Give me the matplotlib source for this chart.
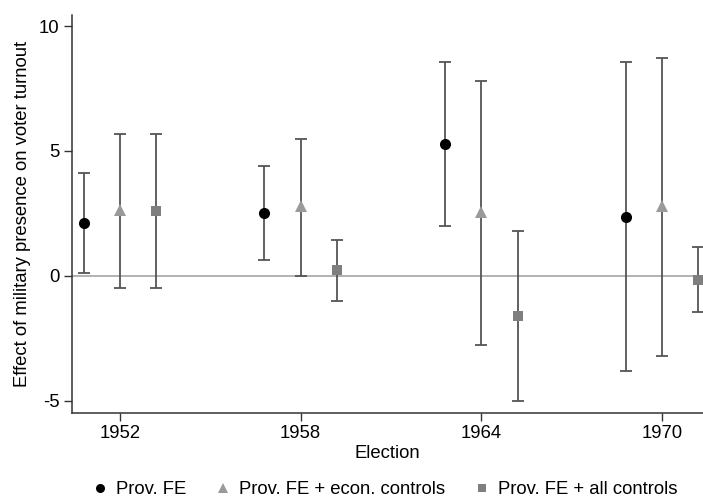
import numpy as np
import matplotlib
matplotlib.use('Agg')
import matplotlib.pyplot as plt
from matplotlib.lines import Line2D

plt.rcParams['font.family'] = ['Liberation Sans', 'DejaVu Sans']
plt.rcParams['axes.unicode_minus'] = False

elections = ['1952', '1958', '1964', '1970']

# Prov. FE
fe_est = [2.13, 2.50, 5.27, 2.37]
fe_lo = [0.11, 0.61, 2.01, -3.80]
fe_hi = [4.12, 4.40, 8.57, 8.55]

# Prov. FE + econ. controls
econ_est = [2.62, 2.78, 2.54, 2.81]
econ_lo = [-0.49, -0.03, -2.78, -3.20]
econ_hi = [5.67, 5.47, 7.78, 8.71]

# Prov. FE + all controls
all_est = [2.60, 0.21, -1.61, -0.16]
all_lo = [-0.49, -1.00, -5.00, -1.47]
all_hi = [5.67, 1.42, 1.81, 1.15]

series = [
    ('Prov. FE', fe_est, fe_lo, fe_hi, -0.2, 'o', 'black', 8),
    ('Prov. FE + econ. controls', econ_est, econ_lo, econ_hi, 0.0, '^', '#9a9a9a', 9),
    ('Prov. FE + all controls', all_est, all_lo, all_hi, 0.2, 's', '#7f7f7f', 7.5),
]

fig = plt.figure(figsize=(7.03, 5.01), dpi=100)
ax = fig.add_axes([0.1024, 0.176, 0.8976, 0.794])

ax.axhline(0, color='#a6a6a6', lw=1.2, zorder=1)

pos = np.arange(1, len(elections) + 1)
handles = []
for name, est, lo, hi, off, mk, col, ms in series:
    x = pos + off
    est = np.array(est)
    yerr = [est - np.array(lo), np.array(hi) - est]
    ax.errorbar(x, est, yerr=yerr, fmt='none', ecolor='#555555',
                elinewidth=1.3, capsize=4.5, capthick=1.3, zorder=2)
    ax.plot(x, est, linestyle='none', marker=mk, color=col, markersize=ms,
            markeredgewidth=0, zorder=3)
    handles.append(Line2D([], [], linestyle='none', marker=mk, color=col,
                          markersize=ms - 1.5, markeredgewidth=0, label=name))

ax.set_xlim(0.735, 4.226)
ax.set_ylim(-5.49, 10.44)
ax.set_xticks(pos)
ax.set_xticklabels(elections)
ax.set_yticks([-5, 0, 5, 10])
ax.tick_params(labelsize=13.3, length=6, width=1, color='#333333', pad=3)

for s in ['top', 'right']:
    ax.spines[s].set_visible(False)
for s in ['left', 'bottom']:
    ax.spines[s].set_color('#333333')
    ax.spines[s].set_linewidth(1.1)

ax.set_xlabel('Election', fontsize=13.3, labelpad=2)
ax.set_ylabel('Effect of military presence on voter turnout', fontsize=13.3, labelpad=6)

fig.legend(handles=handles, loc='center', bbox_to_anchor=(0.548, 0.022),
           ncol=3, frameon=False, fontsize=13.3, handletextpad=0.46,
           columnspacing=1.6, handlelength=0.8)

fig.savefig('out.png', dpi=100)
